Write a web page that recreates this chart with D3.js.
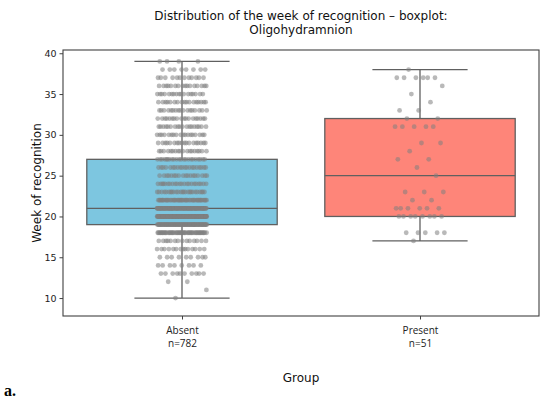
<!DOCTYPE html>
<html>
<head>
<meta charset="utf-8">
<script src="https://cdn.jsdelivr.net/npm/d3@7"></script>
<style>
    body { margin: 0; background: #fff; }
    svg { display: block; }
</style>
</head>
<body>
<div id="chart"></div>
<script>
// Chart data
const groups = ["Absent", "Present"];
const weeks = [10, 11, 12, 13, 14, 15, 16, 17, 18, 19, 20, 21, 22, 23, 24,
               25, 26, 27, 28, 29, 30, 31, 32, 33, 34, 35, 36, 37, 38, 39];
// number of cases per week of recognition
const absentCounts  = [1, 1, 2, 10, 8, 9, 14, 14, 50, 90, 150, 100, 45, 25, 22,
                       18, 20, 22, 18, 18, 18, 18, 18, 17, 17, 17, 16, 12, 8, 4];
const presentCounts = [0, 0, 0, 0, 0, 0, 0, 1, 5, 0, 8, 6, 2, 3, 0,
                       1, 1, 2, 1, 2, 0, 5, 2, 2, 1, 1, 1, 6, 1, 0];
const yTicks = [10, 15, 20, 25, 30, 35, 40];
const boxColors = ["#7dc6e0", "#fe8579"];

const W = 550, H = 400;
const margin = {top: 50, right: 11, bottom: 84, left: 63};

// expand counts into one value per case
function expand(counts)
{
    let vals = [];
    counts.forEach((c, i) => { for (let k = 0; k < c; k++) vals.push(weeks[i]); });
    return vals;
}
const series = [expand(absentCounts), expand(presentCounts)];

// box statistics (same as seaborn / matplotlib: linear quantiles, 1.5 IQR whiskers)
function boxStats(vals)
{
    let s = vals.slice().sort(d3.ascending);
    let q1 = d3.quantileSorted(s, 0.25), med = d3.quantileSorted(s, 0.5), q3 = d3.quantileSorted(s, 0.75);
    let iqr = q3 - q1;
    let lo = d3.min(s.filter(v => v >= q1 - 1.5 * iqr));
    let hi = d3.max(s.filter(v => v <= q3 + 1.5 * iqr));
    return {q1, med, q3, lo, hi};
}
const stats = series.map(boxStats);

// Scales
const xScale = d3.scaleLinear().domain([-0.5, 1.5]).range([margin.left, W - margin.right]);
const yScale = d3.scaleLinear().domain([7.8, 40.4]).range([H - margin.bottom, margin.top]);

const svg = d3.select("#chart").append("svg")
    .attr("width", W).attr("height", H)
    .style("font-family", "DejaVu Sans, sans-serif");

const lineCol = "#606060";
const boxW = 0.8, capW = 0.4, jitter = 0.105;

// Boxes
groups.forEach((g, i) => {
    let st = stats[i];
    let gx = svg.append("g");
    // whiskers
    gx.append("line")
        .attr("x1", xScale(i)).attr("x2", xScale(i))
        .attr("y1", yScale(st.q3)).attr("y2", yScale(st.hi))
        .attr("stroke", lineCol).attr("stroke-width", 1.3);
    gx.append("line")
        .attr("x1", xScale(i)).attr("x2", xScale(i))
        .attr("y1", yScale(st.q1)).attr("y2", yScale(st.lo))
        .attr("stroke", lineCol).attr("stroke-width", 1.3);
    [st.lo, st.hi].forEach(v => {
        gx.append("line")
            .attr("x1", xScale(i - capW / 2)).attr("x2", xScale(i + capW / 2))
            .attr("y1", yScale(v)).attr("y2", yScale(v))
            .attr("stroke", lineCol).attr("stroke-width", 1.3);
    });
    // box
    gx.append("rect")
        .attr("x", xScale(i - boxW / 2))
        .attr("y", yScale(st.q3))
        .attr("width", xScale(i + boxW / 2) - xScale(i - boxW / 2))
        .attr("height", yScale(st.q1) - yScale(st.q3))
        .attr("fill", boxColors[i])
        .attr("stroke", lineCol).attr("stroke-width", 1.3);
    // median
    gx.append("line")
        .attr("x1", xScale(i - boxW / 2)).attr("x2", xScale(i + boxW / 2))
        .attr("y1", yScale(st.med)).attr("y2", yScale(st.med))
        .attr("stroke", lineCol).attr("stroke-width", 1.3);
});

// Strip points (deterministic jitter)
groups.forEach((g, i) => {
    svg.append("g").selectAll("circle")
        .data(series[i])
        .join("circle")
        .attr("cx", (d, k) => xScale(i + (((k * 0.6180339887 + 0.37) % 1) * 2 - 1) * jitter))
        .attr("cy", d => yScale(d))
        .attr("r", 2.4)
        .attr("fill", "#808080")
        .attr("fill-opacity", 0.55);
});

// Frame
svg.append("rect")
    .attr("x", margin.left).attr("y", margin.top)
    .attr("width", W - margin.left - margin.right)
    .attr("height", H - margin.top - margin.bottom)
    .attr("fill", "none").attr("stroke", "#404040").attr("stroke-width", 1.1);

// Y axis
const yAxis = svg.append("g")
    .attr("transform", "translate(" + margin.left + ",0)")
    .call(d3.axisLeft(yScale).tickValues(yTicks).tickSize(3.5).tickPadding(3));
yAxis.select(".domain").remove();
yAxis.selectAll(".tick line").attr("stroke", "#404040");
yAxis.selectAll(".tick text")
    .style("font-family", "DejaVu Sans, sans-serif")
    .style("font-size", "9.5px").attr("fill", "#222");

// X axis
const xAxis = svg.append("g")
    .attr("transform", "translate(0," + (H - margin.bottom) + ")")
    .call(d3.axisBottom(xScale).tickValues([0, 1]).tickSize(3.5).tickFormat(""));
xAxis.select(".domain").remove();
xAxis.selectAll(".tick line").attr("stroke", "#404040");
xAxis.selectAll(".tick").each(function(d) {
    let t = d3.select(this).append("text")
        .attr("fill", "#222")
        .attr("text-anchor", "middle")
        .style("font-family", "Open Sans, sans-serif")
        .style("font-size", "10px");
    t.append("tspan").attr("x", 0).attr("y", 18).text(groups[d]);
    t.append("tspan").attr("x", 0).attr("y", 31).text("n=" + series[d].length);
});

// Axis labels
svg.append("text")
    .attr("transform", "rotate(-90)")
    .attr("x", -(margin.top + (H - margin.top - margin.bottom) / 2))
    .attr("y", 41)
    .style("text-anchor", "middle")
    .style("font-size", "12px").attr("fill", "#111")
    .text("Week of recognition");

svg.append("text")
    .attr("x", (xScale(-0.5) + xScale(1.5)) / 2)
    .attr("y", 382)
    .style("text-anchor", "middle")
    .style("font-size", "12px").attr("fill", "#111")
    .text("Group");

// Title
const title = svg.append("text")
    .attr("x", (xScale(-0.5) + xScale(1.5)) / 2)
    .style("text-anchor", "middle")
    .style("font-size", "12px").attr("fill", "#111");
title.append("tspan").attr("x", (xScale(-0.5) + xScale(1.5)) / 2).attr("y", 20)
    .text("Distribution of the week of recognition \u2013 boxplot:");
title.append("tspan").attr("x", (xScale(-0.5) + xScale(1.5)) / 2).attr("y", 34)
    .text("Oligohydramnion");

// Panel letter
svg.append("text")
    .attr("x", 4).attr("y", 396)
    .style("font-family", "Liberation Serif, serif")
    .style("font-weight", "bold").style("font-size", "16px")
    .text("a.");
</script>
</body>
</html>
